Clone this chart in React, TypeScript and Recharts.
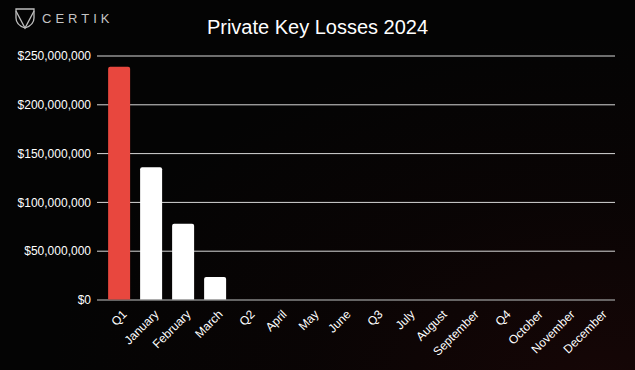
import React from "react";
import { BarChart, Bar, XAxis, YAxis, CartesianGrid, Cell } from "recharts";

const categories = [
  "Q1", "January", "February", "March",
  "Q2", "April", "May", "June",
  "Q3", "July", "August", "September",
  "Q4", "October", "November", "December",
];

const losses = [239000000, 136000000, 78000000, 23500000, 0, 0, 0, 0, 0, 0, 0, 0, 0, 0, 0, 0];

const yTicks = [0, 50000000, 100000000, 150000000, 200000000, 250000000];

const data = categories.map((name, i) => ({ name, value: losses[i] }));

const formatMoney = (v: number) => "$" + v.toLocaleString("en-US");

const FONT = "Liberation Sans, Arial, sans-serif";

function AngledTick(props: any) {
  const { x, y, payload } = props;
  return (
    <g transform={`translate(${x},${y})`}>
      <text
        x={0}
        y={0}
        dx={1}
        dy={11}
        textAnchor="end"
        transform="rotate(-45)"
        fill="#ffffff"
        fontSize={12}
        fontFamily={FONT}
      >
        {payload.value}
      </text>
    </g>
  );
}

function Logo() {
  return (
    <div style={{ position: "absolute", left: 14, top: 6, display: "flex", alignItems: "center", gap: 6 }}>
      <svg width={22} height={24} viewBox="0 0 22 24">
        <path d="M2 3 L20 3 L20 12 Q20 19 11 22 Q2 19 2 12 Z" fill="none" stroke="#bdbdbd" strokeWidth={1.3} />
        <path d="M2 5 L11 22 L20 5" fill="none" stroke="#bdbdbd" strokeWidth={1.3} />
      </svg>
      <span style={{ color: "#c4c4c4", fontFamily: FONT, fontSize: 13, letterSpacing: 4 }}>CERTIK</span>
    </div>
  );
}

export default function App() {
  return (
    <div
      style={{
        position: "fixed",
        left: 0,
        top: 0,
        width: 635,
        height: 370,
        overflow: "hidden",
        background:
          "radial-gradient(ellipse at 95% 105%, rgba(50,10,10,0.4) 0%, rgba(25,5,5,0.25) 35%, rgba(0,0,0,0) 65%), #040404",
      }}
    >
      <Logo />
      <div
        style={{
          position: "absolute",
          left: 0,
          width: 635,
          top: 16,
          textAlign: "center",
          color: "#ffffff",
          fontFamily: FONT,
          fontSize: 20,
        }}
      >
        Private Key Losses 2024
      </div>
      <BarChart
        width={635}
        height={370}
        data={data}
        margin={{ top: 56, right: 20, left: 0, bottom: 0 }}
        barCategoryGap="16%"
      >
        <CartesianGrid vertical={false} stroke="#d8d8d8" strokeWidth={1} />
        <XAxis
          dataKey="name"
          interval={0}
          height={70}
          tick={<AngledTick />}
          tickLine={false}
          axisLine={{ stroke: "#5a5a5a" }}
          padding={{ left: 6, right: 0 }}
        />
        <YAxis
          width={97}
          ticks={yTicks}
          domain={[0, 250000000]}
          tickFormatter={formatMoney}
          tick={{ fill: "#ffffff", fontSize: 12, fontFamily: FONT }}
          tickLine={false}
          axisLine={false}
          tickMargin={0}
        />
        <Bar dataKey="value" radius={[2, 2, 0, 0]} isAnimationActive={false}>
          {data.map((d, i) => (
            <Cell key={d.name} fill={i === 0 ? "#e8473e" : "#ffffff"} />
          ))}
        </Bar>
      </BarChart>
    </div>
  );
}
